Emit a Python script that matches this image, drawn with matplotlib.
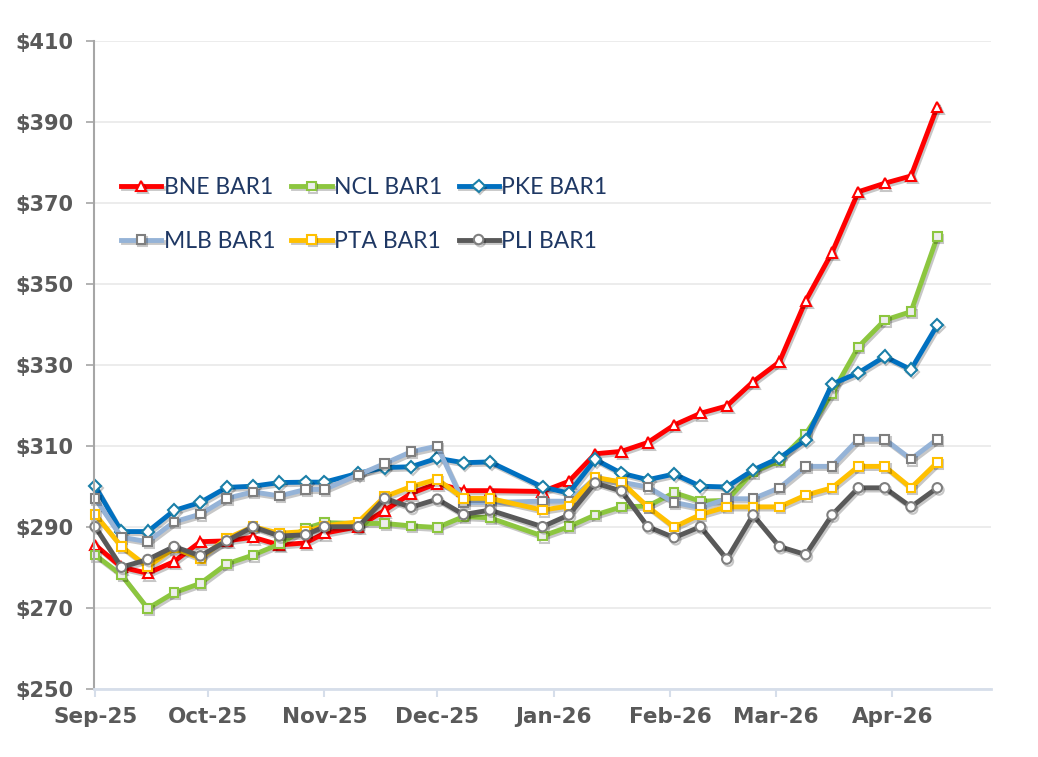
import matplotlib
matplotlib.use("Agg")
import matplotlib.pyplot as plt
import matplotlib.dates as mdates
import matplotlib.patheffects as pe
from datetime import date

# ---------------- data ----------------
dates = [
    "2025-09-01", "2025-09-08", "2025-09-15", "2025-09-22", "2025-09-29",
    "2025-10-06", "2025-10-13", "2025-10-20", "2025-10-27", "2025-11-01",
    "2025-11-10", "2025-11-17", "2025-11-24", "2025-12-01", "2025-12-08",
    "2025-12-15", "2025-12-29", "2026-01-05", "2026-01-12", "2026-01-19",
    "2026-01-26", "2026-02-02", "2026-02-09", "2026-02-16", "2026-02-23",
    "2026-03-02", "2026-03-09", "2026-03-16", "2026-03-23", "2026-03-30",
    "2026-04-06", "2026-04-13",
]

bne = [285.5, 280.0, 278.5, 281.4, 286.3, 286.5, 287.4, 285.5, 286.0, 288.4,
       290.0, 294.0, 298.2, 300.7, 298.9, 298.9, 298.7, 301.2, 308.0, 308.6,
       310.8, 315.1, 318.0, 319.8, 325.8, 330.7, 345.8, 357.7, 372.7, 374.8,
       376.6, 393.7]
ncl = [283.0, 278.1, 269.8, 273.7, 276.0, 280.8, 283.0, 285.7, 289.6, 291.0,
       290.8, 290.8, 290.2, 289.8, 292.5, 292.2, 287.7, 290.0, 292.9, 294.9,
       295.1, 298.4, 296.3, 296.5, 303.5, 306.3, 312.9, 322.9, 334.4, 341.0,
       343.1, 361.6]
pke = [300.0, 288.8, 288.8, 294.0, 296.0, 299.7, 300.0, 300.9, 301.0, 301.0,
       303.2, 304.6, 304.8, 306.9, 305.8, 306.0, 299.8, 298.3, 306.6, 303.2,
       301.6, 303.0, 300.0, 299.8, 304.0, 307.0, 311.4, 325.2, 328.0, 332.0,
       328.8, 339.8]
mlb = [297.0, 287.4, 286.3, 291.2, 293.1, 297.0, 298.6, 297.6, 299.2, 299.2,
       302.8, 305.6, 308.5, 309.9, 296.0, 296.0, 296.3, 296.3, 302.0, 301.0,
       299.8, 296.0, 294.7, 296.9, 296.9, 299.6, 304.9, 304.9, 311.6, 311.6,
       306.7, 311.6]
pta = [293.0, 285.1, 280.1, 284.7, 282.2, 287.1, 290.0, 288.4, 288.8, 290.2,
       291.2, 297.4, 299.9, 301.7, 297.0, 297.0, 294.1, 295.1, 302.2, 301.0,
       294.9, 289.9, 293.0, 294.9, 294.9, 294.9, 297.8, 299.6, 304.9, 304.9,
       299.6, 305.9]
pli = [290.0, 280.0, 281.9, 285.1, 282.8, 286.5, 290.0, 287.7, 288.0, 290.0,
       290.0, 297.0, 294.8, 296.8, 293.0, 294.1, 290.0, 292.9, 300.8, 298.8,
       290.0, 287.3, 290.0, 282.0, 292.9, 285.1, 283.1, 292.9, 299.6, 299.6,
       294.9, 299.6]

series_names = ["BNE BAR1", "NCL BAR1", "PKE BAR1", "MLB BAR1", "PTA BAR1", "PLI BAR1"]
series_values = [bne, ncl, pke, mlb, pta, pli]

x_tick_labels = ["Sep-25", "Oct-25", "Nov-25", "Dec-25", "Jan-26", "Feb-26", "Mar-26", "Apr-26"]
x_tick_dates = ["2025-09-01", "2025-10-01", "2025-11-01", "2025-12-01",
                "2026-01-01", "2026-02-01", "2026-03-01", "2026-04-01"]
y_ticks = [250, 270, 290, 310, 330, 350, 370, 390, 410]

# ---------------- styles ----------------
styles = [
    dict(color="#FF0000", marker="^", mfc="white", mec="#FF0000", ms=7.4),
    dict(color="#8CC63F", marker="s", mfc="#EDEDED", mec="#8CC63F", ms=6.2),
    dict(color="#0070C0", marker="D", mfc="white", mec="#1A7FA8", ms=6.3),
    dict(color="#95B3D7", marker="s", mfc="white", mec="#7F7F7F", ms=6.2),
    dict(color="#FFC000", marker="s", mfc="white", mec="#FFC000", ms=6.2),
    dict(color="#595959", marker="o", mfc="white", mec="#7F7F7F", ms=6.8),
]

def to_num(s):
    y, m, d = map(int, s.split("-"))
    return mdates.date2num(date(y, m, d))

xs = [to_num(d) for d in dates]

fig = plt.figure(figsize=(10.38, 7.57), dpi=100)
ax = fig.add_axes([94 / 1038, 1 - 688.7 / 757, (990.7 - 94) / 1038, (688.7 - 40.7) / 757])

shadow = [pe.SimpleLineShadow(offset=(1.2, -1.6), shadow_color="black", alpha=0.22),
          pe.Normal()]

handles = []
for name, vals, st in zip(series_names, series_values, styles):
    ln, = ax.plot(xs, vals, color=st["color"], lw=3.5, marker=st["marker"],
                  markerfacecolor=st["mfc"], markeredgecolor=st["mec"],
                  markersize=st["ms"], markeredgewidth=1.5,
                  solid_joinstyle="round", label=name, path_effects=shadow,
                  clip_on=False)
    handles.append(ln)

x0 = to_num("2025-09-01")
ax.set_xlim(x0 - 0.3, x0 - 0.3 + 238.5)
ax.set_ylim(250, 410)

ax.set_yticks(y_ticks)
ax.set_yticklabels([f"${v}" for v in y_ticks])
ax.set_xticks([to_num(d) for d in x_tick_dates])
ax.set_xticklabels(x_tick_labels)

ax.grid(axis="y", color="#EBEBEB", lw=1.3)
ax.set_axisbelow(True)

for s in ["top", "right"]:
    ax.spines[s].set_visible(False)
ax.spines["left"].set_color("#A6A6A6")
ax.spines["left"].set_linewidth(1.5)
ax.spines["bottom"].set_color("#D6DEEA")
ax.spines["bottom"].set_linewidth(2)

ax.tick_params(axis="y", direction="out", length=6, width=1.2, color="#A6A6A6",
               pad=9, labelsize=15, labelcolor="#595959")
ax.tick_params(axis="x", direction="out", length=6, width=1.5, color="#D6DEEA",
               pad=7, labelsize=15.5, labelcolor="#595959")
for lab in ax.get_xticklabels() + ax.get_yticklabels():
    lab.set_fontweight("bold")
    lab.set_fontfamily("DejaVu Sans")

order = [0, 3, 1, 4, 2, 5]
leg = fig.legend([handles[i] for i in order], [series_names[i] for i in order],
                 ncol=3, loc="upper left",
                 bbox_to_anchor=(121 / 1038, 1 - 177 / 757),
                 bbox_transform=fig.transFigure, frameon=False,
                 prop={"family": "Lato", "size": 16.5},
                 handlelength=1.75, handletextpad=0.12, columnspacing=0.7,
                 labelspacing=1.42, borderpad=0, borderaxespad=0)
for t in leg.get_texts():
    t.set_color("#1F3864")

fig.savefig("out.png", dpi=100)
